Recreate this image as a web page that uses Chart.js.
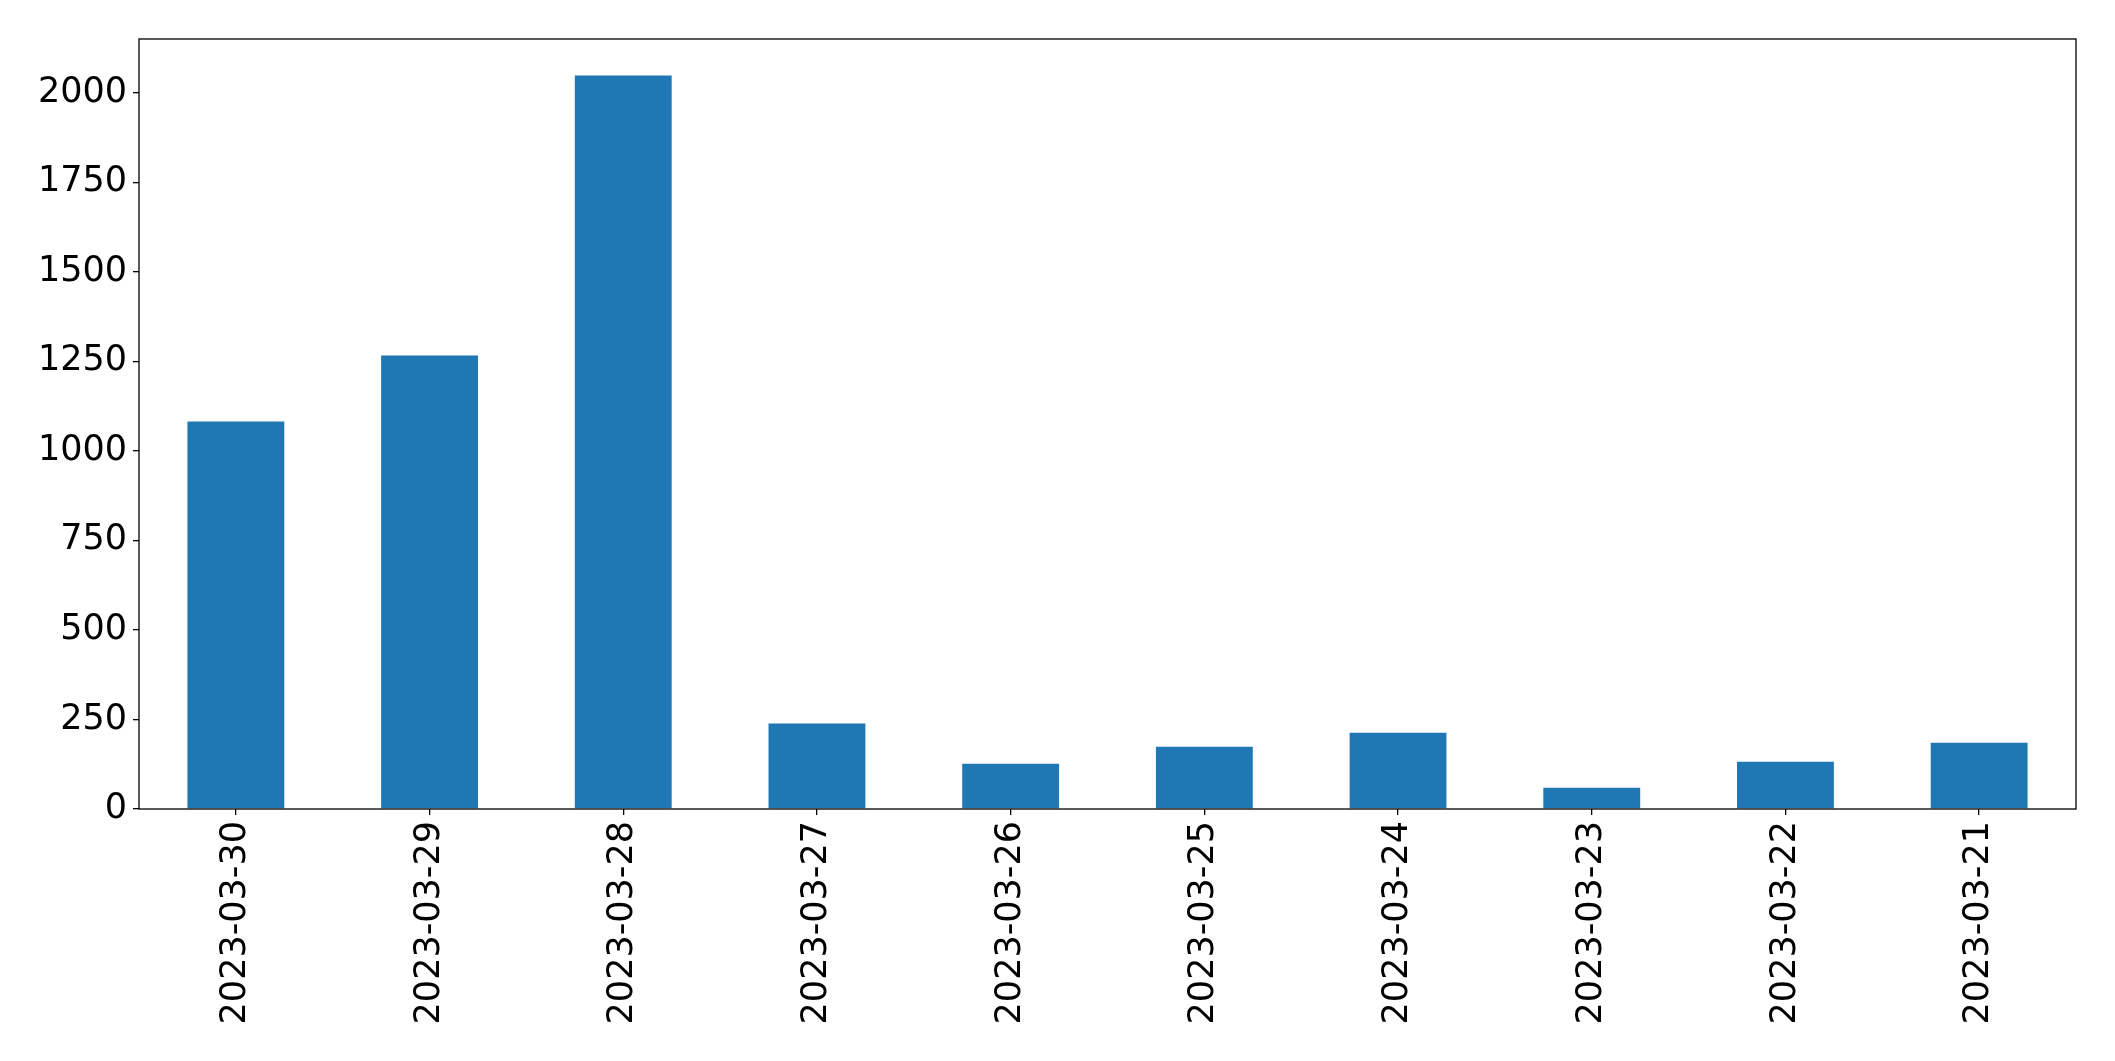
<!DOCTYPE html>
<html>
<head>
<meta charset="utf-8">
<script src="https://cdn.jsdelivr.net/npm/chart.js@4/dist/chart.umd.min.js"></script>
<style>
  html, body { margin: 0; padding: 0; background: #fff; }
  canvas { display: block; }
</style>
</head>
<body>
<canvas id="bar-chart" width="2115" height="1061"></canvas>
<script>
const dates = ["2023-03-30", "2023-03-29", "2023-03-28", "2023-03-27", "2023-03-26",
               "2023-03-25", "2023-03-24", "2023-03-23", "2023-03-22", "2023-03-21"];
const counts = [1082, 1266, 2048, 239, 126, 174, 213, 59, 132, 185];
const yTicks = [0, 250, 500, 750, 1000, 1250, 1500, 1750, 2000];

// box round the plot area, like the matplotlib axes frame
const frame = {
  id: 'frame',
  afterDraw(chart) {
    const a = chart.chartArea, ctx = chart.ctx;
    ctx.save();
    ctx.strokeStyle = '#000';
    ctx.lineWidth = 1.3;
    ctx.strokeRect(a.left, a.top, a.right - a.left, a.bottom - a.top);
    ctx.restore();
  }
};

new Chart(document.getElementById("bar-chart"), {
  type: 'bar',
  data: {
    labels: dates,
    datasets: [{
      data: counts,
      backgroundColor: '#1f77b4',
      borderWidth: 0,
      barPercentage: 0.5,
      categoryPercentage: 1.0
    }]
  },
  options: {
    responsive: false,
    animation: false,
    layout: { padding: { top: 39, right: 39, left: 0, bottom: 0 } },
    plugins: { legend: { display: false }, tooltip: { enabled: false } },
    scales: {
      x: {
        offset: true,
        grid: { display: true, offset: false, drawOnChartArea: false, tickLength: 6, color: '#000', lineWidth: 1.3 },
        border: { display: false },
        ticks: {
          color: '#000',
          font: { family: 'DejaVu Sans', size: 35 },
          minRotation: 90,
          maxRotation: 90,
          padding: 6,
          autoSkip: false
        },
        afterFit(scale) { scale.height = 252; }
      },
      y: {
        min: 0,
        max: 2150,
        grid: { display: true, drawOnChartArea: false, tickLength: 6, color: '#000', lineWidth: 1.3 },
        border: { display: false },
        ticks: {
          color: '#000',
          font: { family: 'DejaVu Sans', size: 35 },
          padding: 6,
          callback: v => String(v)
        },
        afterBuildTicks(scale) {
          scale.ticks = yTicks.map(v => ({ value: v }));
        },
        afterFit(scale) { scale.width = 139; }
      }
    }
  },
  plugins: [frame]
});
</script>
</body>
</html>
